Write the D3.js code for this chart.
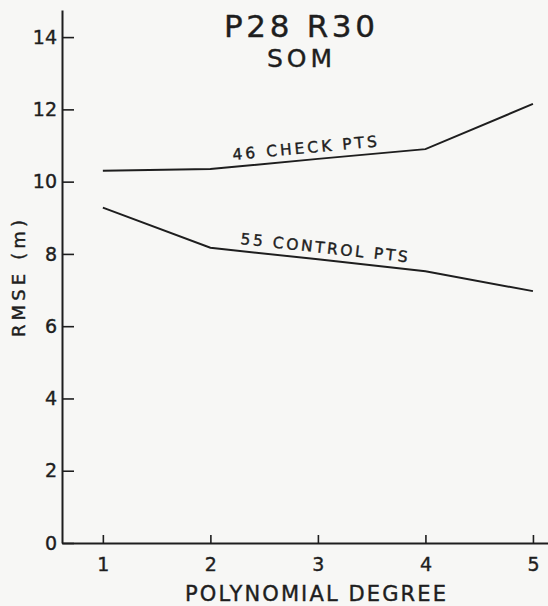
<!DOCTYPE html>
<html>
<head>
<meta charset="utf-8">
<script src="https://cdn.jsdelivr.net/npm/d3@7"></script>
<style>
  body { margin: 0; background: #f7f7f5; }
  svg { display: block; }
  text { font-family: 'DejaVu Sans', sans-serif; fill: #1e1e1e; stroke: #1e1e1e; stroke-width: 0.4px; }
</style>
</head>
<body>
<div id="chart"></div>
<script>
// data
var degrees = [1, 2, 3, 4, 5];
var checkPts = [10.3, 10.35, 10.63, 10.9, 12.15];
var controlPts = [9.28, 8.17, 7.85, 7.52, 6.97];
var yTicks = [0, 2, 4, 6, 8, 10, 12, 14];
var seriesNames = ['46 CHECK PTS', '55 CONTROL PTS'];

var w = 548;
var h = 606;
var ink = '#1e1e1e';

var svg = d3
  .select('#chart')
  .append('svg')
  .attr('width', w)
  .attr('height', h);

var x = d3.scaleLinear().domain([0.62, 5.14]).range([62, 548]);
var y = d3.scaleLinear().domain([0, 14.75]).range([543, 10]);

// y axis, ticks point inward
var yAxis = svg
  .append('g')
  .attr('transform', 'translate(62,0)')
  .call(
    d3.axisLeft(y).tickValues(yTicks).tickSize(-12).tickSizeOuter(0).tickPadding(5)
  );

// x axis
var xAxis = svg
  .append('g')
  .attr('transform', 'translate(0,543)')
  .call(
    d3
      .axisBottom(x)
      .tickValues(degrees)
      .tickFormat(d3.format('d'))
      .tickSize(-8)
      .tickSizeOuter(0)
      .tickPadding(15)
  );

[yAxis, xAxis].forEach(function (g) {
  g.select('.domain').attr('stroke', ink).attr('stroke-width', 2);
  g.selectAll('.tick line').attr('stroke', ink).attr('stroke-width', 1.6);
  g.selectAll('.tick text')
    .attr('font-size', '19px')
    .attr('font-family', 'DejaVu Sans, sans-serif')
    .attr('fill', ink);
});

// the lines
var line = d3
  .line()
  .x(function (d, i) {
    return x(degrees[i]);
  })
  .y(function (d) {
    return y(d);
  });

[checkPts, controlPts].forEach(function (s) {
  svg
    .append('path')
    .datum(s)
    .attr('d', line)
    .attr('fill', 'none')
    .attr('stroke', ink)
    .attr('stroke-width', 2);
});

// labels along the lines
function lineLabel(txt, s, x0, off, len) {
  var a = Math.atan2(y(s[3]) - y(s[1]), x(degrees[3]) - x(degrees[1]));
  var t = (x0 - x(degrees[1])) / (x(degrees[3]) - x(degrees[1]));
  var py = y(s[1]) + t * (y(s[3]) - y(s[1])) - off;
  svg
    .append('text')
    .attr('transform', 'translate(' + x0 + ',' + py + ') rotate(' + (a * 180) / Math.PI + ')')
    .attr('font-size', '15.5px')
    .attr('stroke-width', 0.6)
    .attr('textLength', len)
    .attr('lengthAdjust', 'spacing')
    .text(txt);
}
lineLabel(seriesNames[0], checkPts, 233, 7, 145);
lineLabel(seriesNames[1], controlPts, 240, 7, 168);

// titles
svg
  .append('text')
  .attr('x', 224)
  .attr('y', 37)
  .attr('font-size', '31px')
  .attr('textLength', 151)
  .attr('lengthAdjust', 'spacing')
  .text('P28 R30');

svg
  .append('text')
  .attr('x', 267)
  .attr('y', 67)
  .attr('font-size', '25px')
  .attr('textLength', 65)
  .attr('lengthAdjust', 'spacing')
  .text('SOM');

svg
  .append('text')
  .attr('x', 185)
  .attr('y', 601)
  .attr('font-size', '21px')
  .attr('textLength', 261)
  .attr('lengthAdjust', 'spacing')
  .text('POLYNOMIAL DEGREE');

svg
  .append('text')
  .attr('transform', 'translate(25,337) rotate(-90)')
  .attr('font-size', '18px')
  .attr('textLength', 117)
  .attr('lengthAdjust', 'spacing')
  .text('RMSE (m)');
</script>
</body>
</html>
